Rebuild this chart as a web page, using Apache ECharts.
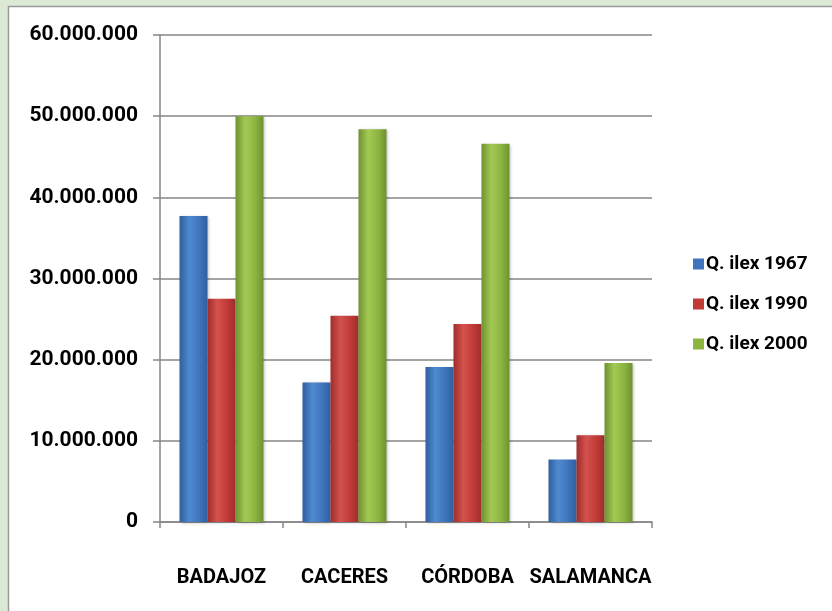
<!DOCTYPE html>
<html>
<head>
<meta charset="utf-8">
<script src="https://cdn.jsdelivr.net/npm/echarts@6/dist/echarts.min.js"></script>
<style>
html,body{margin:0;padding:0;background:#fff;}
#chart{width:832px;height:611px;}
</style>
</head>
<body>
<div id="chart"></div>
<script>
var categories = ['BADAJOZ', 'CACERES', 'CÓRDOBA', 'SALAMANCA'];
var seriesNames = ['Q. ilex 1967', 'Q. ilex 1990', 'Q. ilex 2000'];
var ilex1967 = [37700000, 17200000, 19100000, 7700000];
var ilex1990 = [27500000, 25400000, 24400000, 10700000];
var ilex2000 = [50000000, 48400000, 46600000, 19600000];
var yTicks = [0, 10000000, 20000000, 30000000, 40000000, 50000000, 60000000];

var FONT = 'Roboto, "Noto Sans", sans-serif';

function grad(dark, mid, light) {
  return new echarts.graphic.LinearGradient(0, 0, 1, 0, [
    {offset: 0, color: dark},
    {offset: 0.35, color: light},
    {offset: 0.7, color: mid},
    {offset: 1, color: dark}
  ]);
}
var colors = [
  grad('#2f5f9e', '#3f75bd', '#4f8ad0'),
  grad('#9e2d2b', '#c03b38', '#d4524e'),
  grad('#6e9230', '#8cb540', '#a3c955')
];
var legendColors = ['#3f75bd', '#c03b38', '#8cb540'];

function fmt(v) {
  return String(v).replace(/\B(?=(\d{3})+(?!\d))/g, '.');
}

var dataSets = [ilex1967, ilex1990, ilex2000];
var series = seriesNames.map(function (n, i) {
  return {
    name: n,
    type: 'bar',
    data: dataSets[i],
    barWidth: 28,
    barGap: '0%',
    itemStyle: {color: colors[i], shadowColor: 'rgba(0,0,0,0.25)', shadowBlur: 3, shadowOffsetX: 1, shadowOffsetY: 1},
    emphasis: {disabled: true}
  };
});

var chart = echarts.init(document.getElementById('chart'), null, {renderer: 'canvas'});
chart.setOption({
  animation: false,
  color: legendColors,
  graphic: [
    {type: 'rect', z: -10, silent: true, shape: {x: 0, y: 0, width: 832, height: 611}, style: {fill: '#dbe9d5'}},
    {type: 'rect', z: -9, silent: true, shape: {x: 8.5, y: 6.5, width: 840, height: 620}, style: {fill: '#ffffff', stroke: '#9a9a9a', lineWidth: 1.5}}
  ],
  legend: {
    orient: 'vertical',
    left: 688,
    top: 247,
    itemWidth: 11,
    itemHeight: 11,
    itemGap: 16,
    icon: 'rect',
    data: seriesNames.map(function (n, i) { return {name: n, itemStyle: {color: legendColors[i]}}; }),
    textStyle: {fontFamily: FONT, fontWeight: 'bold', fontSize: 19, lineHeight: 24, color: '#000', padding: [0, 0, 0, -3]}
  },
  grid: {left: 160, right: 180, top: 35, bottom: 89, containLabel: false},
  xAxis: {
    type: 'category',
    data: categories,
    axisLine: {lineStyle: {color: '#868686', width: 1.5}},
    axisTick: {show: true, length: 6, alignWithLabel: false, lineStyle: {color: '#868686', width: 1.5}},
    axisLabel: {fontFamily: FONT, fontWeight: 'bold', fontSize: 20, color: '#000', margin: 46, interval: 0}
  },
  yAxis: {
    type: 'value',
    min: 0,
    max: 60000000,
    interval: 10000000,
    axisLine: {show: true, lineStyle: {color: '#868686', width: 1.5}},
    axisTick: {show: true, length: 7, lineStyle: {color: '#868686', width: 1.5}},
    splitLine: {show: true, lineStyle: {color: '#868686', width: 1.5}},
    axisLabel: {fontFamily: FONT, fontWeight: 'bold', fontSize: 21, color: '#000', margin: 22, formatter: function (v) { return fmt(v); }}
  },
  series: series
});
</script>
</body>
</html>
